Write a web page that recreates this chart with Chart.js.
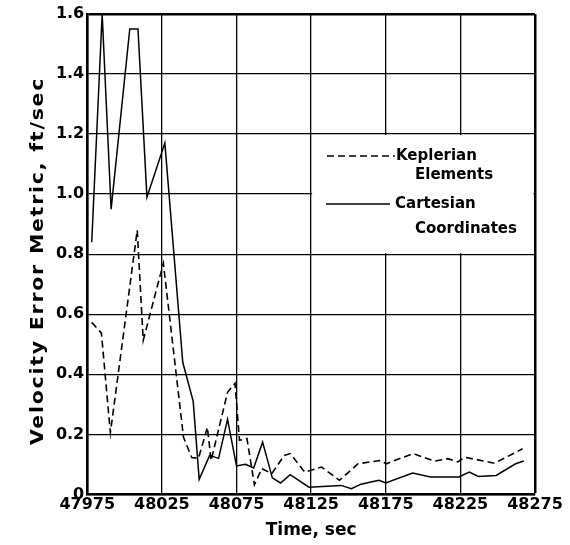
<!DOCTYPE html>
<html>
<head>
<meta charset="utf-8">
<script src="https://cdn.jsdelivr.net/npm/chart.js@4/dist/chart.umd.min.js"></script>
<style>
  html, body { margin: 0; padding: 0; background: #fff; }
  #wrap { width: 570px; height: 545px; }
</style>
</head>
<body>
<div id="wrap"><canvas id="c" width="570" height="545"></canvas></div>
<script>
// ---- data ----
const xTicks = [47975, 48025, 48075, 48125, 48175, 48225, 48275];
const yTicks = [0, 0.2, 0.4, 0.6, 0.8, 1.0, 1.2, 1.4, 1.6];

const keplerianLabel = ['Keplerian', 'Elements'];
const keplerianTime = [47978, 47984.5, 47990.5, 48008.5, 48012.5, 48026, 48039.5, 48045, 48049.5, 48055.5,
  48058, 48069, 48074, 48077, 48082, 48087, 48092, 48098.6, 48107, 48111, 48120.8, 48132, 48144, 48156.5,
  48171, 48175.4, 48193.2, 48207.7, 48216.6, 48223.3, 48227.7, 48247.8, 48266.7];
const keplerianValue = [0.573, 0.537, 0.205, 0.88, 0.513, 0.77, 0.19, 0.123, 0.12, 0.223,
  0.113, 0.34, 0.37, 0.18, 0.186, 0.032, 0.086, 0.069, 0.13, 0.136, 0.074, 0.091, 0.047, 0.102,
  0.113, 0.102, 0.136, 0.111, 0.119, 0.108, 0.124, 0.104, 0.152];

const cartesianLabel = ['Cartesian', 'Coordinates'];
const cartesianTime = [47978, 47985, 47991, 48003.5, 48009, 48015, 48027, 48039, 48046, 48050,
  48057, 48063, 48069, 48075, 48081, 48086.5, 48092.5, 48099, 48104.5, 48111, 48123.5, 48145,
  48152, 48158.5, 48165, 48170.5, 48175, 48193, 48205, 48224, 48231, 48237, 48249, 48262, 48267.5];
const cartesianValue = [0.84, 1.6, 0.95, 1.55, 1.55, 0.99, 1.17, 0.44, 0.31, 0.05,
  0.13, 0.12, 0.25, 0.095, 0.10, 0.088, 0.174, 0.055, 0.038, 0.066, 0.024, 0.03,
  0.019, 0.034, 0.041, 0.047, 0.038, 0.071, 0.058, 0.058, 0.074, 0.06, 0.063, 0.102, 0.111];

// legend panel spans these grid cells
const legendCellX = [48125, 48275];
const legendCellY = [0.8, 1.2];

const xTitle = 'Time, sec';
const yTitle = 'Velocity Error Metric, ft/sec';

// ---- build ----
const toPoints = (ts, vs) => ts.map((t, i) => ({ x: t, y: vs[i] }));
const FONT = "'DejaVu Sans', sans-serif";

const boxLegend = {
  id: 'boxLegend',
  beforeDatasetsDraw(chart) {
    const ctx = chart.ctx, xs = chart.scales.x, ys = chart.scales.y;
    const x0 = xs.getPixelForValue(legendCellX[0]) + 1;
    const x1 = xs.getPixelForValue(legendCellX[1]) - 1.5;
    const y0 = ys.getPixelForValue(legendCellY[1]) + 1;
    const y1 = ys.getPixelForValue(legendCellY[0]) - 1;
    ctx.save();
    ctx.fillStyle = '#fff';
    ctx.fillRect(x0, y0, x1 - x0, y1 - y0);
    ctx.restore();
  },
  afterDatasetsDraw(chart) {
    const ctx = chart.ctx;
    ctx.save();
    ctx.strokeStyle = '#000';
    ctx.fillStyle = '#000';
    ctx.lineWidth = 1.6;
    const ds = chart.data.datasets;
    ctx.setLineDash(ds[0].borderDash);
    ctx.beginPath(); ctx.moveTo(327, 156); ctx.lineTo(395, 156); ctx.stroke();
    ctx.setLineDash([]);
    ctx.beginPath(); ctx.moveTo(326, 204); ctx.lineTo(390, 204); ctx.stroke();
    ctx.font = 'bold 15px ' + FONT;
    ctx.textBaseline = 'middle';
    ctx.textAlign = 'left';
    ctx.fillText(ds[0].label[0], 396, 156);
    ctx.fillText(ds[0].label[1], 415, 175);
    ctx.fillText(ds[1].label[0], 395, 204);
    ctx.fillText(ds[1].label[1], 415, 229);
    ctx.restore();
  },
  afterDraw(chart) {
    // extended-lettering y axis title (the library title only reserves its room)
    const ctx = chart.ctx, ys = chart.scales.y;
    ctx.save();
    ctx.font = 'bold 17px ' + FONT;
    ctx.fillStyle = '#000';
    ctx.letterSpacing = '1.5px';
    const w = ctx.measureText(yTitle).width;
    ctx.translate(ys.left + 8.5, 261);
    ctx.rotate(-Math.PI / 2);
    ctx.scale(1.2, 1);
    ctx.textBaseline = 'middle';
    ctx.textAlign = 'left';
    ctx.fillText(yTitle, -w / 2, 0);
    ctx.restore();
  }
};

new Chart(document.getElementById('c'), {
  type: 'line',
  data: {
    datasets: [
      { label: keplerianLabel, data: toPoints(keplerianTime, keplerianValue),
        borderColor: '#000', borderWidth: 1.6, borderDash: [7, 4], pointRadius: 0, tension: 0, fill: false },
      { label: cartesianLabel, data: toPoints(cartesianTime, cartesianValue),
        borderColor: '#000', borderWidth: 1.5, pointRadius: 0, tension: 0, fill: false }
    ]
  },
  options: {
    responsive: false,
    animation: false,
    devicePixelRatio: 1,
    layout: { padding: { left: 30.5, right: 35, top: 14, bottom: 4 } },
    plugins: { legend: { display: false }, tooltip: { enabled: false } },
    scales: {
      x: {
        type: 'linear', min: xTicks[0], max: xTicks[xTicks.length - 1],
        afterBuildTicks: s => { s.ticks = xTicks.map(v => ({ value: v })); },
        ticks: { color: '#000', font: { family: FONT, size: 16, weight: 'bold' }, padding: 1, maxRotation: 0,
                 callback: v => String(v) },
        grid: { color: '#000', drawTicks: false,
                lineWidth: c => (c.tick && c.tick.value === xTicks[xTicks.length - 1]) ? 2.5 : 1.3 },
        border: { color: '#000', width: 2.5 },
        title: { display: true, text: xTitle, color: '#000', font: { family: FONT, size: 17, weight: 'bold' },
                 padding: { top: 5, bottom: 0 } }
      },
      y: {
        type: 'linear', min: yTicks[0], max: yTicks[yTicks.length - 1],
        afterBuildTicks: s => { s.ticks = yTicks.map(v => ({ value: v })); },
        ticks: { color: '#000', font: { family: FONT, size: 16, weight: 'bold' }, padding: 3,
                 callback: v => v === 0 ? '0' : v.toFixed(1) },
        grid: { color: '#000', drawTicks: false,
                lineWidth: c => (c.tick && c.tick.value === yTicks[yTicks.length - 1]) ? 2.5 : 1.3 },
        border: { color: '#000', width: 2.5 },
        title: { display: true, text: yTitle, color: 'rgba(0,0,0,0)', font: { family: FONT, size: 17, weight: 'bold' },
                 padding: { top: 0, bottom: 2 } }
      }
    }
  },
  plugins: [boxLegend]
});
</script>
</body>
</html>
